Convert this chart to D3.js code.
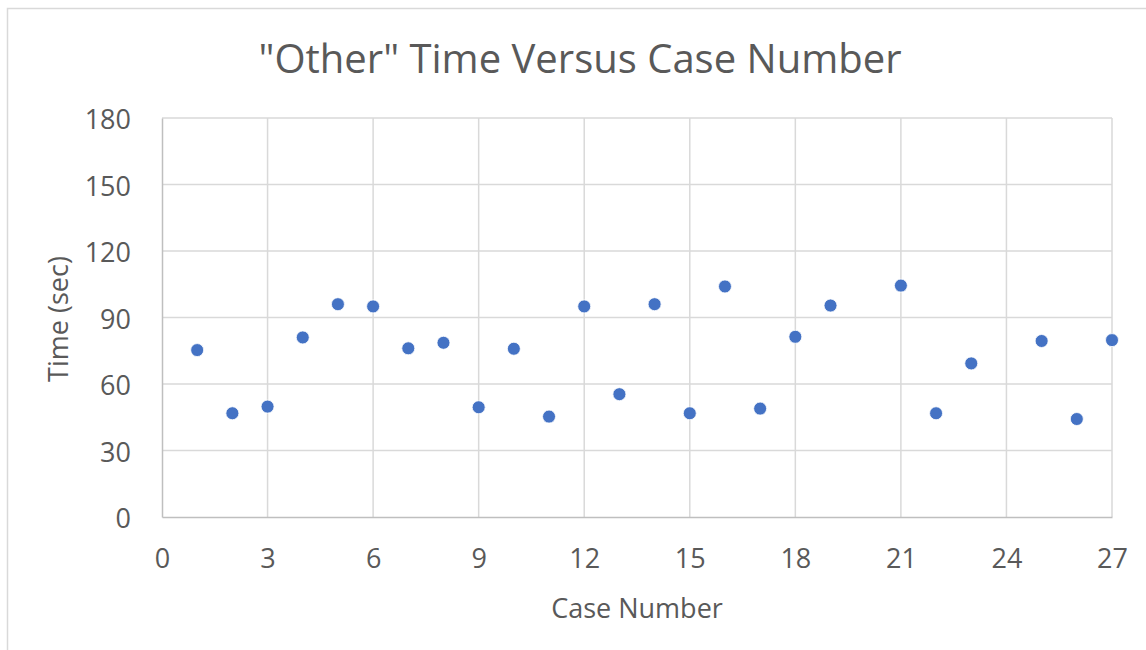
<!DOCTYPE html>
<html>
<head>
<meta charset="utf-8">
<script src="https://cdn.jsdelivr.net/npm/d3@7"></script>
<style>
  body { margin: 0; background: #fff; }
  text { font-family: "Open Sans", "Noto Sans", sans-serif; fill: #595959; }
</style>
</head>
<body>
<div id="chart"></div>
<script>
// case numbers and "other" times (sec)
var caseNums = [1, 2, 3, 4, 5, 6, 7, 8, 9, 10, 11, 12, 13, 14, 15, 16, 17, 18, 19, 21, 22, 23, 25, 26, 27];
var times = [75.3, 46.8, 49.8, 81.0, 96.0, 95.0, 76.1, 78.6, 49.5, 75.9, 45.3, 95.0, 55.4, 96.0, 46.8, 104.0, 48.9, 81.3, 95.4, 104.4, 46.8, 69.3, 79.4, 44.2, 79.8];
var xTicks = [0, 3, 6, 9, 12, 15, 18, 21, 24, 27];
var yTicks = [0, 30, 60, 90, 120, 150, 180];

var data = caseNums.map(function(c, i) { return {x: c, y: times[i]}; });

// set the dimensions and margins of the graph
var margin = {top: 118, right: 34, bottom: 133, left: 162},
    width = 1146 - margin.left - margin.right,
    height = 650 - margin.top - margin.bottom;

var svgRoot = d3.select("#chart")
  .append("svg")
    .attr("width", 1146)
    .attr("height", 650);

// outer chart frame
svgRoot.append("rect")
  .attr("x", 7.5)
  .attr("y", 8.5)
  .attr("width", 1160)
  .attr("height", 660)
  .attr("fill", "none")
  .attr("stroke", "#d9d9d9")
  .attr("stroke-width", 1.5);

var svg = svgRoot.append("g")
    .attr("transform", "translate(" + margin.left + "," + margin.top + ")");

var x = d3.scaleLinear()
  .domain([0, 27])
  .range([0, width]);

var y = d3.scaleLinear()
  .domain([0, 180])
  .range([height, 0]);

// gridlines
svg.append("g")
  .selectAll("line")
  .data(yTicks.filter(function(d) { return d > 0; }))
  .enter()
  .append("line")
    .attr("x1", 0)
    .attr("x2", width)
    .attr("y1", function(d) { return y(d); })
    .attr("y2", function(d) { return y(d); })
    .attr("stroke", "#d9d9d9")
    .attr("stroke-width", 1.5);

svg.append("g")
  .selectAll("line")
  .data(xTicks.filter(function(d) { return d > 0; }))
  .enter()
  .append("line")
    .attr("x1", function(d) { return x(d); })
    .attr("x2", function(d) { return x(d); })
    .attr("y1", 0)
    .attr("y2", height)
    .attr("stroke", "#d9d9d9")
    .attr("stroke-width", 1.5);

// X axis
var xAxis = svg.append("g")
  .attr("transform", "translate(0," + height + ")")
  .call(d3.axisBottom(x).tickValues(xTicks).tickSize(0).tickPadding(32));
xAxis.select(".domain").attr("stroke", "#bfbfbf").attr("stroke-width", 1.5);
xAxis.selectAll("text")
  .style("font-size", "27px")
  .attr("fill", "#595959");

// Y axis
var yAxis = svg.append("g")
  .call(d3.axisLeft(y).tickValues(yTicks).tickSize(0).tickPadding(31));
yAxis.select(".domain").attr("stroke", "#bfbfbf").attr("stroke-width", 1.5);
yAxis.selectAll("text")
  .style("font-size", "27px")
  .attr("dy", "0.4em")
  .attr("fill", "#595959");

// points
svg.selectAll("mycircle")
  .data(data)
  .enter()
  .append("circle")
    .attr("cx", function(d) { return x(d.x); })
    .attr("cy", function(d) { return y(d.y); })
    .attr("r", 6.5)
    .attr("fill", "#4472c4")
    .attr("stroke", "#ffffff")
    .attr("stroke-width", 0.8);

// title
svgRoot.append("text")
  .text("\"Other\" Time Versus Case Number")
  .attr("x", 580)
  .attr("y", 73)
  .style("text-anchor", "middle")
  .style("font-size", "40px");

// axis titles
svgRoot.append("text")
  .text("Case Number")
  .attr("x", 637)
  .attr("y", 618)
  .style("text-anchor", "middle")
  .style("font-size", "27px");

svgRoot.append("text")
  .text("Time (sec)")
  .attr("transform", "translate(68," + 319 + ") rotate(-90)")
  .style("text-anchor", "middle")
  .style("font-size", "27px");
</script>
</body>
</html>
